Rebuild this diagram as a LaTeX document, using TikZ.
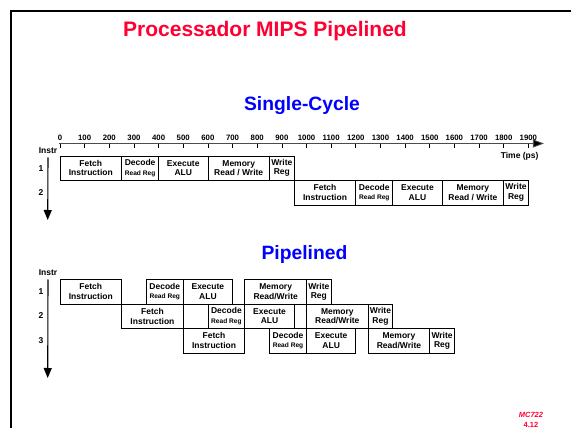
\documentclass[tikz,border=0pt]{standalone}
\usepackage{fontspec}
\setmainfont{Liberation Sans}
\usetikzlibrary{arrows.meta,fit,positioning}
\definecolor{rougetitre}{RGB}{255,0,51}
\definecolor{bleutitre}{RGB}{0,0,255}

\begin{document}
\begin{tikzpicture}[x=1pt,y=-1pt]
%styles des étapes, des flèches et des textes
\tikzset{etage/.style={draw,line width=0.8pt,inner sep=0pt},
  texte/.style={align=center,inner sep=0pt,font=\fontsize{8.5}{9.6}\selectfont\bfseries},
  fleche/.style={line width=1.1pt,-{Triangle[length=10pt,width=8pt]}},
  lbl/.style={font=\fontsize{8.5}{9}\selectfont\bfseries},
  graduation/.style={font=\fontsize{7.8}{8}\selectfont\bfseries}}
\newcommand{\rr}{\\{\fontsize{6.6}{7}\selectfont Read Reg}}
\useasboundingbox (0,0) rectangle (571,428);
\draw[line width=2pt] (11,440) |- (580,11);

%titres
\node[font=\fontsize{21}{24}\selectfont\bfseries,text=rougetitre] (titre) at (265,31) {Processador MIPS Pipelined};
\node[font=\fontsize{19.3}{22}\selectfont\bfseries,text=bleutitre] (single) at (302,106) {Single-Cycle};
\node[font=\fontsize{19.3}{22}\selectfont\bfseries,text=bleutitre] (pipe) at (304.5,255) {Pipelined};

%axe du temps (1 unité = 1 ps)
\begin{scope}[xshift=60pt,x=0.2465pt]
\coordinate (axe0) at (-5,143.5);
\coordinate (axefin) at (1963,143.5);
\draw[line width=0.8pt,draw=black!70,-{Triangle[length=11pt,width=8pt,fill=black]}] (axe0) -- (axefin);
\foreach \t in {0,100,...,1900}{
  \draw[line width=0.7pt] (\t,143.5) -- (\t,147.5);
  \node[graduation] (gr\t) at (\t,137.5) {\t};
}
%single-cycle
\node[etage,fit={(0,156)(250,180)},label={[texte]center:Fetch\\Instruction}] (sc1f) {};
\node[etage,fit={(250,156)(400,180)},label={[texte]center:Decode\rr}] (sc1d) {};
\node[etage,fit={(400,156)(600,180)},label={[texte]center:Execute\\ALU}] (sc1e) {};
\node[etage,fit={(600,156)(850,180)},label={[texte]center:Memory\\Read / Write}] (sc1m) {};
\node[etage,fit={(850,156)(950,180)},label={[texte]center:Write\\Reg}] (sc1w) {};
\node[etage,fit={(950,180)(1200,205)},label={[texte]center:Fetch\\Instruction}] (sc2f) {};
\node[etage,fit={(1200,180)(1350,205)},label={[texte]center:Decode\rr}] (sc2d) {};
\node[etage,fit={(1350,180)(1550,205)},label={[texte]center:Execute\\ALU}] (sc2e) {};
\node[etage,fit={(1550,180)(1800,205)},label={[texte]center:Memory\\Read / Write}] (sc2m) {};
\node[etage,fit={(1800,180)(1900,205)},label={[texte]center:Write\\Reg}] (sc2w) {};
%pipelined
\node[etage,fit={(0,279.5)(250,304)},label={[texte]center:Fetch\\Instruction}] (p1f) {};
\node[etage,fit={(350,279.5)(500,304)},label={[texte]center:Decode\rr}] (p1d) {};
\node[etage,fit={(500,279.5)(700,304)},label={[texte]center:Execute\\ALU}] (p1e) {};
\node[etage,fit={(750,279.5)(1000,304)},label={[texte]center:Memory\\Read/Write}] (p1m) {};
\node[etage,fit={(1000,279.5)(1100,304)},label={[texte]center:Write\\Reg}] (p1w) {};
\node[etage,fit={(250,304)(500,328.5)},label={[texte]center:Fetch\\Instruction}] (p2f) {};
\node[etage,fit={(600,304)(750,328.5)},label={[texte]center:Decode\rr}] (p2d) {};
\node[etage,fit={(750,304)(950,328.5)},label={[texte]center:Execute\\ALU}] (p2e) {};
\node[etage,fit={(1000,304)(1250,328.5)},label={[texte]center:Memory\\Read/Write}] (p2m) {};
\node[etage,fit={(1250,304)(1350,328.5)},label={[texte]center:Write\\Reg}] (p2w) {};
\node[etage,fit={(500,328.5)(750,353)},label={[texte]center:Fetch\\Instruction}] (p3f) {};
\node[etage,fit={(850,328.5)(1000,353)},label={[texte]center:Decode\rr}] (p3d) {};
\node[etage,fit={(1000,328.5)(1200,353)},label={[texte]center:Execute\\ALU}] (p3e) {};
\node[etage,fit={(1250,328.5)(1500,353)},label={[texte]center:Memory\\Read/Write}] (p3m) {};
\node[etage,fit={(1500,328.5)(1600,353)},label={[texte]center:Write\\Reg}] (p3w) {};
\end{scope}

\node[lbl,anchor=east] (temps) at (542,156.5) {Time (ps)};

%axes des instructions
\node[lbl] (instr1) at (48,151) {Instr};
\node[lbl] (n11) at (41,169) {1};
\node[lbl] (n12) at (41,193) {2};
\coordinate (bas1) at (47.7,220);
\draw[fleche] (instr1.south) -- (bas1);

\node[lbl] (instr2) at (48,273) {Instr};
\node[lbl] (n21) at (41,291.5) {1};
\node[lbl] (n22) at (41,316) {2};
\node[lbl] (n23) at (41,340.5) {3};
\coordinate (bas2) at (47.7,378);
\draw[fleche] (instr2.south) -- (bas2);

%numéro de page
\node[font=\fontsize{7.5}{8}\selectfont\bfseries\itshape,text=rougetitre] (mc) at (531,415) {MC722};
\node[font=\fontsize{7.5}{8}\selectfont\bfseries,text=rougetitre] (pg) at (531,424.5) {4.12};
\end{tikzpicture}
\end{document}
